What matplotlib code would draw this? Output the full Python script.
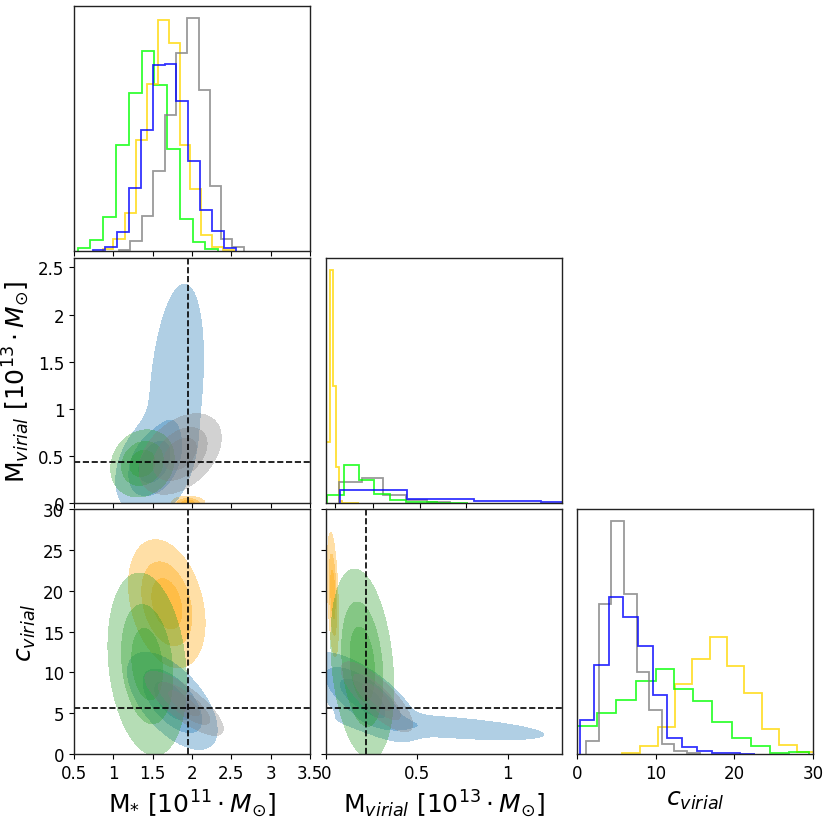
import matplotlib
matplotlib.use('Agg')
import matplotlib.pyplot as plt
import numpy as np
from matplotlib.ticker import FormatStrFormatter

# --- 1D histograms (bin edges, relative heights) ---
# M_* [1e11 Msun]
yellow_ms_edges = [0.865, 1.001, 1.142, 1.282, 1.426, 1.562, 1.703, 1.843, 1.975, 2.119, 2.255, 2.395, 2.536]
yellow_ms_h = [5, 37, 115, 333, 500, 692, 625, 318, 186, 49, 13, 3]
green_ms_edges = [0.547, 0.708, 0.870, 1.031, 1.197, 1.363, 1.520, 1.681, 1.843, 2.009, 2.170, 2.332]
green_ms_h = [9, 34, 102, 318, 474, 600, 499, 306, 96, 27, 5]
blue_ms_edges = [0.738, 0.891, 1.044, 1.193, 1.346, 1.499, 1.652, 1.796, 1.949, 2.102, 2.255, 2.404, 2.557]
blue_ms_h = [4, 12, 56, 188, 363, 557, 561, 450, 270, 122, 59, 9]
grey_ms_edges = [1.074, 1.218, 1.363, 1.507, 1.652, 1.796, 1.941, 2.085, 2.225, 2.370, 2.514, 2.659]
grey_ms_h = [2, 29, 105, 239, 407, 595, 700, 482, 194, 36, 12]

# M_virial [1e13 Msun]
yellow_mv_edges = [0.005, 0.045, 0.075, 0.105, 0.14, 0.175, 0.35]
yellow_mv_h = [182, 700, 350, 107, 7, 1]
green_mv_edges = [0.014, 0.196, 0.356, 0.516, 0.683, 0.854, 1.021, 1.188, 1.359, 1.52]
green_mv_h = [24, 114, 70, 27, 10, 3, 2, 1, 1]
grey_mv_edges = [0.142, 0.381, 0.612, 0.854, 1.081, 1.323]
grey_mv_h = [62, 76, 25, 10, 3]
blue_mv_edges = [0.149, 0.861, 1.580, 2.291, 3.0]
blue_mv_h = [40, 11, 5, 2]

# c_virial
yellow_c_edges = [5.78, 7.99, 10.24, 12.45, 14.66, 16.87, 19.04, 21.29, 23.50, 25.71, 27.92, 30.09]
yellow_c_h = [2, 25, 81, 210, 287, 353, 265, 184, 75, 26, 7]
green_c_edges = [0, 2.55, 5.02, 7.48, 9.99, 12.37, 14.79, 17.21, 19.68, 22.10, 24.56, 26.99, 29.45]
green_c_h = [85, 122, 162, 219, 255, 197, 160, 95, 48, 24, 3, 5]
blue_c_edges = [0.34, 2.21, 4.08, 5.86, 7.78, 9.60, 11.47, 13.34, 15.21, 17.13, 18.95, 20.78, 22.65]
blue_c_h = [102, 267, 471, 413, 326, 177, 48, 21, 10, 4, 2, 1]
grey_c_edges = [1.10, 2.76, 4.38, 5.99, 7.61, 9.18, 10.75, 12.37, 13.98, 15.6]
grey_c_h = [40, 450, 701, 481, 248, 131, 30, 9, 2]

# --- 2D density blobs: (x0, y0, sx, sy, rho, weight) per component ---
# M_* vs M_virial
orange_ms_mv = [(1.95, 0.0, 0.09, 0.03, 0.0, 1.0)]
blue_ms_mv = [(1.50, 0.42, 0.20, 0.22, 0.35, 1.0), (1.80, 1.20, 0.21, 0.68, 0.3, 0.25)]
green_ms_mv = [(1.37, 0.42, 0.17, 0.15, 0.15, 1.0)]
grey_ms_mv = [(1.85, 0.52, 0.22, 0.18, 0.4, 1.0)]
# M_* vs c_virial
orange_ms_c = [(1.68, 18.4, 0.205, 3.3, -0.3, 1.0)]
blue_ms_c = [(1.75, 6.5, 0.24, 2.5, -0.6, 1.0)]
green_ms_c = [(1.43, 11.0, 0.21, 4.7, -0.2, 1.0)]
grey_ms_c = [(1.90, 6.2, 0.21, 1.65, -0.8, 1.0)]
# M_virial vs c_virial
orange_mv_c = [(0.038, 19.5, 0.013, 3.2, -0.4, 1.0)]
blue_mv_c = [(0.20, 7.0, 0.13, 2.3, -0.7, 1.0), (0.65, 3.3, 0.32, 0.9, -0.6, 0.26)]
green_mv_c = [(0.20, 11.0, 0.073, 4.9, -0.25, 1.0)]
grey_mv_c = [(0.28, 7.0, 0.083, 1.8, -0.8, 1.0)]

ms_true = 1.95
mv_true_left = 0.44
mv_true_mid = 0.22
c_true = 5.6

levels = [0.06, 0.3, 0.65]

col_hist = {'yellow': 'gold', 'green': 'lime', 'blue': 'blue', 'grey': 'grey'}
col_fill = {'yellow': 'orange', 'green': '#2ca02c', 'blue': '#1f77b4', 'grey': 'grey'}

plt.rcParams['font.size'] = 12
plt.rcParams['axes.linewidth'] = 1.0
plt.rcParams['axes.edgecolor'] = '#222222'

W, H = 831, 820
fig = plt.figure(figsize=(W/100, H/100), dpi=100)


def add_ax(x0, y0, w=236, h=245):
    return fig.add_axes([x0/W, 1 - (y0 + h)/H, w/W, h/H])


ax_ms = add_ax(74, 7)
ax_ms_mv = add_ax(74, 259)
ax_mv = add_ax(326, 259)
ax_ms_c = add_ax(74, 510)
ax_mv_c = add_ax(326, 510)
ax_c = add_ax(577, 510)


def blob(X, Y, comps):
    Z = np.zeros_like(X)
    for x0, y0, sx, sy, rho, w in comps:
        dx = (X - x0)/sx
        dy = (Y - y0)/sy
        q = (dx**2 - 2*rho*dx*dy + dy**2)/(1 - rho**2)
        Z += w*np.exp(-0.5*q)
    return Z/Z.max()


def draw_blobs(ax, xlim, ylim, blobs):
    xs = np.linspace(xlim[0] - 0.1*(xlim[1]-xlim[0]), xlim[1], 300)
    ys = np.linspace(ylim[0] - 0.1*(ylim[1]-ylim[0]), ylim[1], 300)
    X, Y = np.meshgrid(xs, ys)
    for name, comps in blobs:
        Z = blob(X, Y, comps)
        for lv in levels:
            ax.contourf(X, Y, Z, levels=[lv, 1.01], colors=[col_fill[name]], alpha=0.35)
    ax.set_xlim(xlim)
    ax.set_ylim(ylim)


def hist(ax, series):
    for name, edges, h in series:
        ax.stairs(h, edges, color=col_hist[name], lw=1.3, alpha=0.8)


lim_ms = (0.5, 3.5)
lim_mv = (0, 2.6)
lim_mv_mid = (0, 1.3)
lim_c = (0, 30)
lab_fs = 18

# diagonal histograms
hist(ax_ms, [('green', green_ms_edges, green_ms_h), ('yellow', yellow_ms_edges, yellow_ms_h),
             ('grey', grey_ms_edges, grey_ms_h), ('blue', blue_ms_edges, blue_ms_h)])
ax_ms.set_xlim(lim_ms)
ax_ms.set_ylim(0, 735)
ax_ms.set_xticks([0.5, 1, 1.5, 2, 2.5, 3, 3.5])
ax_ms.set_xticklabels([])
ax_ms.set_yticks([])

hist(ax_mv, [('yellow', yellow_mv_edges, yellow_mv_h), ('grey', grey_mv_edges, grey_mv_h),
             ('green', green_mv_edges, green_mv_h), ('blue', blue_mv_edges, blue_mv_h)])
ax_mv.set_xlim(0, 2.52)
ax_mv.set_ylim(0, 735)
ax_mv.set_xticks([0.1, 0.5, 1.0, 1.5])
ax_mv.set_xticklabels([])
ax_mv.set_yticks([])

hist(ax_c, [('yellow', yellow_c_edges, yellow_c_h), ('green', green_c_edges, green_c_h),
            ('grey', grey_c_edges, grey_c_h), ('blue', blue_c_edges, blue_c_h)])
ax_c.set_xlim(lim_c)
ax_c.set_ylim(0, 737)
ax_c.set_xticks([0, 10, 20, 30])
ax_c.set_yticks([])
ax_c.xaxis.set_major_formatter(FormatStrFormatter('%g'))
ax_c.set_xlabel(r'$c_{virial}$', fontsize=lab_fs)

# 2D panels
draw_blobs(ax_ms_mv, lim_ms, lim_mv, [('yellow', orange_ms_mv), ('blue', blue_ms_mv),
                                      ('green', green_ms_mv), ('grey', grey_ms_mv)])
ax_ms_mv.axvline(ms_true, color='k', ls='--', lw=1.2)
ax_ms_mv.axhline(mv_true_left, color='k', ls='--', lw=1.2)
ax_ms_mv.set_xticks([0.5, 1, 1.5, 2, 2.5, 3, 3.5])
ax_ms_mv.set_xticklabels([])
ax_ms_mv.set_yticks([0, 0.5, 1, 1.5, 2, 2.5])
ax_ms_mv.yaxis.set_major_formatter(FormatStrFormatter('%g'))
ax_ms_mv.set_ylabel(r'M$_{virial}$ [$10^{13}\cdot M_{\odot}$]', fontsize=lab_fs)

draw_blobs(ax_ms_c, lim_ms, lim_c, [('yellow', orange_ms_c), ('blue', blue_ms_c),
                                    ('green', green_ms_c), ('grey', grey_ms_c)])
ax_ms_c.axvline(ms_true, color='k', ls='--', lw=1.2)
ax_ms_c.axhline(c_true, color='k', ls='--', lw=1.2)
ax_ms_c.set_xticks([0.5, 1, 1.5, 2, 2.5, 3, 3.5])
ax_ms_c.set_yticks([0, 5, 10, 15, 20, 25, 30])
ax_ms_c.xaxis.set_major_formatter(FormatStrFormatter('%g'))
ax_ms_c.yaxis.set_major_formatter(FormatStrFormatter('%g'))
ax_ms_c.set_xlabel(r'M$_{*}$ [$10^{11}\cdot M_{\odot}$]', fontsize=lab_fs)
ax_ms_c.set_ylabel(r'$c_{virial}$', fontsize=lab_fs)

draw_blobs(ax_mv_c, lim_mv_mid, lim_c, [('yellow', orange_mv_c), ('blue', blue_mv_c),
                                        ('green', green_mv_c), ('grey', grey_mv_c)])
ax_mv_c.axvline(mv_true_mid, color='k', ls='--', lw=1.2)
ax_mv_c.axhline(c_true, color='k', ls='--', lw=1.2)
ax_mv_c.set_xticks([0, 0.5, 1])
ax_mv_c.set_yticks([0, 5, 10, 15, 20, 25, 30])
ax_mv_c.set_yticklabels([])
ax_mv_c.xaxis.set_major_formatter(FormatStrFormatter('%g'))
ax_mv_c.set_xlabel(r'M$_{virial}$ [$10^{13}\cdot M_{\odot}$]', fontsize=lab_fs)

for ax in [ax_ms, ax_mv, ax_c, ax_ms_mv, ax_ms_c, ax_mv_c]:
    ax.tick_params(direction='out', length=3.5, width=0.8, labelsize=12)

fig.savefig('out.png', dpi=100)
